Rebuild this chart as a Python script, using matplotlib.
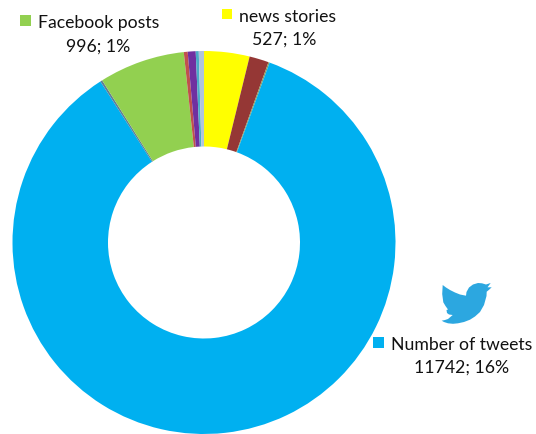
import matplotlib
matplotlib.use("Agg")
import matplotlib.pyplot as plt
from matplotlib.patches import Polygon, Rectangle

# slices clockwise from 12 o'clock
values = [527, 225, 14, 11742, 24, 996, 45, 92, 35, 60]
colors = ["#FFFF00", "#953735", "#8A9A5B", "#00B0F0", "#5F7F96", "#92D050",
          "#C0504D", "#7030A0", "#4BACC6", "#B0C4DE"]

labels = ["Facebook posts", "news stories", "Number of tweets"]
counts = ["996; 1%", "527; 1%", "11742; 16%"]
key_colors = ["#92D050", "#FFFF00", "#00B0F0"]

# bird outline
bird_x = [442.7, 446, 450, 455, 460, 466, 466.5, 469, 473, 478, 482, 486, 490.7, 487.5, 491.7, 489, 486.7,
          486.5, 484, 480, 475, 470, 464, 458, 453, 448, 444, 441.7, 445, 448, 452.7, 449, 447, 446.5, 448,
          445.5, 443.3, 442.2]
bird_y = [286, 288.5, 291, 293.5, 295.5, 296.7, 293, 288.5, 285.5, 284, 284.3, 285.5, 284, 288.3, 288.3, 290.8, 292.7,
          297, 306, 313, 317.5, 320.7, 323, 324.3, 324.8, 324.3, 323, 321.7, 321, 320, 316, 315.5, 314, 311, 310.5,
          307, 303.3, 295]

plt.rcParams["font.family"] = ["Lato", "DejaVu Sans"]

fig = plt.figure(figsize=(5.36, 4.35), dpi=100)
ax = fig.add_axes([0, 0, 1, 1])
ax.pie(values, colors=colors, startangle=90, counterclock=False,
       center=(204, 191.5), radius=191.5, frame=True,
       wedgeprops={"width": 95.5, "linewidth": 0})
ax.set_xlim(0, 536)
ax.set_ylim(0, 435)
ax.set_aspect("equal")
ax.axis("off")

ax.add_patch(Polygon(list(zip(bird_x, [435 - y for y in bird_y])), closed=True,
                     facecolor="#2CA7E0", edgecolor="none"))

# label blocks: key square, name, then count on the line below
ax.add_patch(Rectangle((20, 435 - 27), 11, 11, facecolor=key_colors[0], edgecolor="none"))
ax.text(38, 435 - 23, labels[0], fontsize=12.7, va="center", ha="left", color="#111111")
ax.text(98, 435 - 47, counts[0], fontsize=12.7, va="center", ha="center", color="#111111")

ax.add_patch(Rectangle((222, 435 - 20), 10, 10, facecolor=key_colors[1], edgecolor="none"))
ax.text(239, 435 - 17, labels[1], fontsize=12.7, va="center", ha="left", color="#111111")
ax.text(284, 435 - 40, counts[1], fontsize=12.7, va="center", ha="center", color="#111111")

ax.add_patch(Rectangle((373, 435 - 349), 11, 11, facecolor=key_colors[2], edgecolor="none"))
ax.text(391, 435 - 345, labels[2], fontsize=12.7, va="center", ha="left", color="#111111")
ax.text(462, 435 - 368, counts[2], fontsize=12.7, va="center", ha="center", color="#111111")

fig.savefig("out.png", dpi=100)
